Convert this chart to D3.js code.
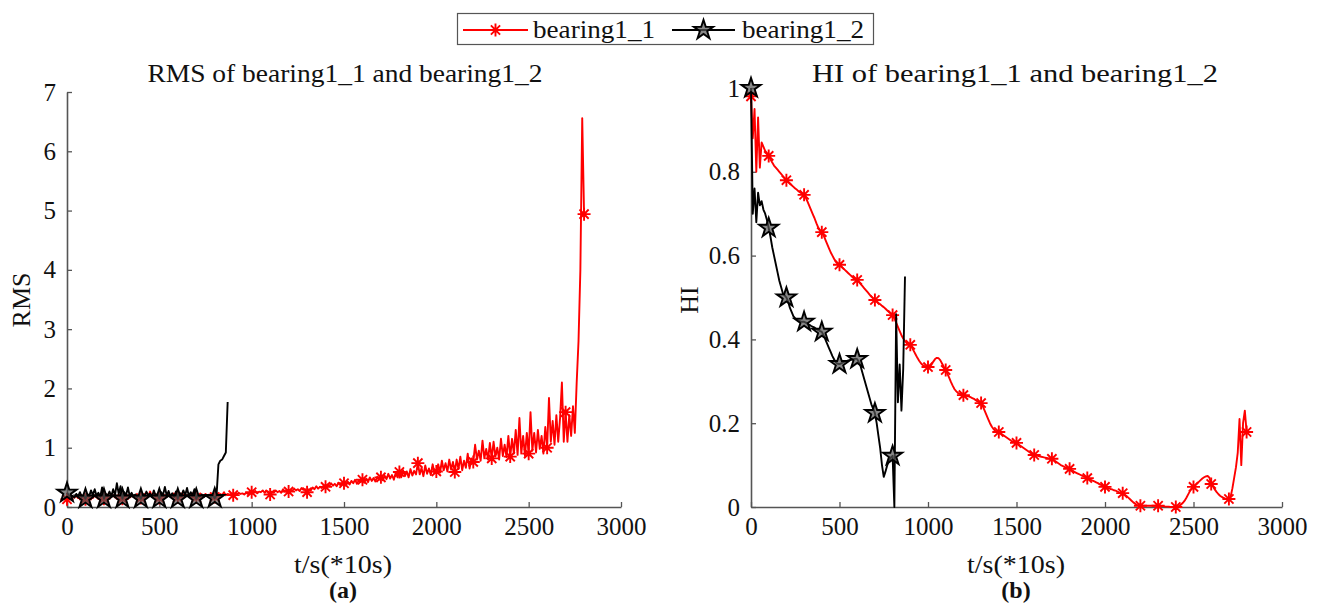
<!DOCTYPE html>
<html>
<head>
<meta charset="utf-8">
<script src="https://cdn.jsdelivr.net/npm/d3@7"></script>
<style>
  body { margin: 0; background: #fff; }
  svg { display: block; }
  text { font-family: "Liberation Serif", "Times New Roman", serif; fill: #111; }
</style>
</head>
<body>
<svg id="chart" width="1323" height="604"></svg>
<script>
// Ticks
var timeTicks = [0, 500, 1000, 1500, 2000, 2500, 3000];
var rmsTicks = [0, 1, 2, 3, 4, 5, 6, 7];
var hiTicks = [0, 0.2, 0.4, 0.6, 0.8, 1];

// samples are every 10 time units (t/s *10s), markers every 100
var sampleStep = 10;
var markerEvery = 100;

// RMS of bearing1_1 (0 .. 2800)
var rms11 = [
  0.13,0.17,0.15,0.18,0.16,0.19,0.15,0.17,0.16,0.18,
  0.13,0.17,0.16,0.18,0.15,0.20,0.16,0.18,0.17,0.19,
  0.14,0.18,0.16,0.19,0.17,0.20,0.16,0.19,0.17,0.18,
  0.14,0.19,0.17,0.20,0.16,0.19,0.18,0.20,0.17,0.19,
  0.15,0.20,0.17,0.19,0.18,0.26,0.17,0.20,0.18,0.19,
  0.15,0.19,0.18,0.20,0.17,0.21,0.18,0.20,0.19,0.20,
  0.16,0.20,0.18,0.21,0.19,0.20,0.18,0.21,0.19,0.20,
  0.16,0.20,0.19,0.21,0.18,0.22,0.19,0.21,0.20,0.22,
  0.17,0.21,0.19,0.22,0.20,0.25,0.20,0.22,0.21,0.22,
  0.20,0.23,0.21,0.24,0.22,0.23,0.21,0.24,0.22,0.25,
  0.25,0.24,0.27,0.23,0.26,0.25,0.28,0.24,0.27,0.26,
  0.21,0.26,0.24,0.28,0.25,0.27,0.24,0.30,0.26,0.28,
  0.26,0.29,0.27,0.31,0.28,0.30,0.27,0.32,0.29,0.30,
  0.25,0.30,0.28,0.33,0.30,0.35,0.31,0.34,0.32,0.36,
  0.34,0.38,0.35,0.40,0.36,0.39,0.35,0.41,0.37,0.40,
  0.40,0.36,0.43,0.38,0.44,0.40,0.46,0.39,0.45,0.42,
  0.46,0.41,0.48,0.42,0.50,0.44,0.49,0.43,0.51,0.46,
  0.50,0.45,0.53,0.47,0.56,0.48,0.54,0.46,0.58,0.50,
  0.59,0.50,0.62,0.52,0.60,0.50,0.64,0.53,0.61,0.55,
  0.74,0.55,0.66,0.52,0.70,0.56,0.65,0.54,0.72,0.57,
  0.60,0.72,0.58,0.78,0.62,0.74,0.60,0.80,0.63,0.76,
  0.59,0.80,0.64,0.85,0.62,0.78,0.66,0.90,0.65,0.82,
  0.76,1.05,0.80,0.95,0.78,1.12,0.82,0.98,0.80,1.08,
  0.82,1.10,0.85,1.00,0.80,1.15,0.86,1.05,0.84,1.20,
  0.85,1.15,0.90,1.30,0.88,1.50,0.90,1.20,0.86,1.25,
  0.90,1.60,0.95,1.25,0.92,1.30,0.98,1.20,0.90,1.35,
  1.00,1.84,1.10,1.45,1.05,1.55,1.10,1.50,2.10,1.10,
  1.60,1.10,1.55,1.20,1.70,1.25,2.10,2.80,4.00,6.56,
  4.94
];

// RMS of bearing1_2 (0 .. 870)
var rms12 = [
  0.24,0.20,0.17,0.19,0.16,0.22,0.18,0.25,0.17,0.20,
  0.14,0.22,0.18,0.28,0.20,0.30,0.19,0.24,0.17,0.33,
  0.14,0.22,0.19,0.26,0.18,0.30,0.20,0.40,0.22,0.35,
  0.14,0.25,0.20,0.33,0.18,0.24,0.17,0.21,0.16,0.20,
  0.14,0.22,0.18,0.26,0.20,0.23,0.17,0.28,0.19,0.22,
  0.14,0.25,0.20,0.34,0.19,0.27,0.18,0.23,0.17,0.26,
  0.14,0.24,0.19,0.28,0.20,0.32,0.18,0.25,0.20,0.30,
  0.14,0.20,0.18,0.21,0.17,0.19,0.18,0.20,0.17,0.19,
  0.15,0.20,0.72,0.78,0.80,0.86,0.92,1.77
];

// HI of bearing1_1 (0 .. 2800)
var hi11 = [
  0.98,0.88,0.95,0.80,0.93,0.81,0.87,0.86,0.85,0.845,
  0.838,0.83,0.822,0.815,0.81,0.805,0.80,0.795,0.79,0.785,
  0.78,0.776,0.772,0.768,0.764,0.76,0.757,0.753,0.75,0.747,
  0.745,0.738,0.728,0.718,0.708,0.698,0.688,0.677,0.667,0.66,
  0.656,0.648,0.638,0.628,0.618,0.608,0.60,0.592,0.585,0.58,
  0.578,0.574,0.57,0.566,0.562,0.558,0.554,0.55,0.546,0.544,
  0.542,0.537,0.532,0.527,0.522,0.517,0.512,0.507,0.502,0.498,
  0.494,0.491,0.487,0.484,0.48,0.477,0.473,0.469,0.465,0.462,
  0.458,0.45,0.44,0.43,0.42,0.41,0.402,0.396,0.391,0.389,
  0.387,0.38,0.372,0.364,0.356,0.349,0.343,0.339,0.336,0.335,
  0.334,0.335,0.34,0.347,0.353,0.356,0.355,0.35,0.342,0.334,
  0.327,0.318,0.308,0.298,0.289,0.281,0.276,0.272,0.27,0.268,
  0.267,0.266,0.265,0.264,0.262,0.26,0.258,0.255,0.252,0.25,
  0.248,0.24,0.23,0.22,0.21,0.20,0.192,0.186,0.182,0.18,
  0.179,0.176,0.173,0.17,0.167,0.164,0.161,0.158,0.156,0.154,
  0.153,0.15,0.147,0.144,0.141,0.138,0.135,0.132,0.129,0.126,
  0.124,0.123,0.122,0.121,0.12,0.119,0.118,0.117,0.116,0.115,
  0.115,0.112,0.109,0.106,0.103,0.10,0.098,0.096,0.094,0.092,
  0.091,0.088,0.086,0.083,0.081,0.079,0.077,0.075,0.073,0.071,
  0.069,0.067,0.065,0.063,0.061,0.059,0.057,0.054,0.052,0.05,
  0.048,0.046,0.045,0.043,0.042,0.04,0.039,0.037,0.035,0.034,
  0.033,0.03,0.027,0.023,0.019,0.015,0.011,0.008,0.005,0.004,
  0.003,0.003,0.003,0.003,0.003,0.003,0.003,0.003,0.003,0.003,
  0.003,0.003,0.002,0.002,0.001,0.001,0.001,0,0,0,
  0,0.001,0.003,0.006,0.01,0.015,0.022,0.03,0.038,0.044,
  0.048,0.052,0.056,0.06,0.064,0.068,0.071,0.073,0.074,0.07,
  0.055,0.049,0.042,0.036,0.031,0.027,0.024,0.022,0.02,0.019,
  0.019,0.025,0.045,0.07,0.095,0.13,0.21,0.10,0.20,0.23,
  0.179
];

// HI of bearing1_2 (0 .. 870)
var hi12 = [
  1.0,0.70,0.76,0.68,0.75,0.72,0.73,0.71,0.70,0.685,
  0.666,0.645,0.62,0.60,0.58,0.56,0.54,0.525,0.51,0.505,
  0.50,0.49,0.475,0.465,0.455,0.45,0.447,0.445,0.443,0.442,
  0.442,0.44,0.437,0.435,0.432,0.43,0.428,0.425,0.422,0.42,
  0.418,0.41,0.40,0.39,0.38,0.37,0.36,0.352,0.345,0.342,
  0.341,0.343,0.345,0.347,0.348,0.35,0.351,0.352,0.353,0.354,
  0.353,0.345,0.335,0.32,0.305,0.29,0.275,0.26,0.245,0.235,
  0.224,0.20,0.17,0.14,0.10,0.072,0.085,0.10,0.11,0.118,
  0.122,0.0,0.46,0.25,0.34,0.23,0.33,0.55
];

var seriesNames = ["bearing1_1", "bearing1_2"];
var seriesColors = ["#ff0000", "#000000"];

var svg = d3.select("#chart");
var axisColor = "#555";
var plotBottom = 507;

// MATLAB-like '*' marker and pentagram
var asteriskPath = "M-6.5,0H6.5M0,-6.5V6.5M-4.6,-4.6L4.6,4.6M-4.6,4.6L4.6,-4.6";
var starPath = d3.symbol(d3.symbolStar, 115)();

function addMarker(sel, kind, color) {
  if (kind === "asterisk") {
    return sel.append("path").attr("d", asteriskPath)
      .attr("stroke", color).attr("stroke-width", 1.9).attr("fill", "none");
  }
  return sel.append("path").attr("d", starPath)
    .attr("stroke", color).attr("stroke-width", 1.9)
    .attr("fill", "#555").attr("fill-opacity", 0.7);
}

/*
  One panel: two series drawn on a shared time axis
*/
function drawPanel(p) {
  var x = d3.scaleLinear().domain([0, 3000]).range([p.left, p.right]);
  var y = d3.scaleLinear().domain(p.yDomain).range([plotBottom, p.top]);
  var g = svg.append("g");

  var xAxis = g.append("g")
    .attr("transform", "translate(0," + plotBottom + ")")
    .call(d3.axisBottom(x).tickValues(timeTicks).tickSizeInner(-5)
      .tickSizeOuter(0).tickPadding(10).tickFormat(d3.format("d")));
  var yAxis = g.append("g")
    .attr("transform", "translate(" + p.left + ",0)")
    .call(d3.axisLeft(y).tickValues(p.yTicks).tickSizeInner(-5)
      .tickSizeOuter(0).tickPadding(11).tickFormat(function(d) { return String(+d.toFixed(1)); }));

  [xAxis, yAxis].forEach(function(a) {
    a.select(".domain").attr("stroke", axisColor).attr("stroke-width", 1.6);
    a.selectAll(".tick line").attr("stroke", axisColor).attr("stroke-width", 1.3);
    a.selectAll(".tick text").attr("font-size", 25)
      .attr("font-family", "Liberation Serif, serif").attr("fill", "#111");
  });

  // series
  p.series.forEach(function(s) {
    var line = d3.line()
      .x(function(d, i) { return x(i * sampleStep); })
      .y(function(d) { return y(d); });
    g.append("path").datum(s.values)
      .attr("d", line)
      .attr("fill", "none")
      .attr("stroke", s.color)
      .attr("stroke-width", 1.9)
      .attr("stroke-linejoin", "round");

    var marks = [];
    s.values.forEach(function(v, i) {
      if ((i * sampleStep) % markerEvery === 0) marks.push({ t: i * sampleStep, v: v });
    });
    marks.forEach(function(m) {
      addMarker(g, s.marker, s.color)
        .attr("transform", "translate(" + x(m.t) + "," + y(m.v) + ")");
    });
  });

  // texts
  g.append("text").attr("x", p.titleX).attr("y", 82)
    .attr("text-anchor", "middle").attr("font-size", 25)
    .attr("textLength", p.titleLen).attr("lengthAdjust", "spacingAndGlyphs")
    .text(p.title);
  g.append("text").attr("transform", "translate(" + p.yLabelX + ",300) rotate(-90)")
    .attr("text-anchor", "middle").attr("font-size", 26)
    .text(p.yLabel);
  g.append("text").attr("x", p.labelX).attr("y", 573)
    .attr("text-anchor", "middle").attr("font-size", 25)
    .attr("textLength", 98).attr("lengthAdjust", "spacingAndGlyphs")
    .text("t/s(*10s)");
  g.append("text").attr("x", p.labelX).attr("y", 598)
    .attr("text-anchor", "middle").attr("font-size", 24).attr("font-weight", "bold")
    .text(p.tag);
}

drawPanel({
  left: 67, right: 621, top: 92, yDomain: [0, 7], yTicks: rmsTicks,
  title: "RMS of bearing1_1 and bearing1_2", titleX: 345, titleLen: 395,
  yLabel: "RMS", yLabelX: 30, labelX: 343, tag: "(a)",
  series: [
    { values: rms11, color: seriesColors[0], marker: "asterisk" },
    { values: rms12, color: seriesColors[1], marker: "star" }
  ]
});

drawPanel({
  left: 751, right: 1282, top: 88, yDomain: [0, 1], yTicks: hiTicks,
  title: "HI of bearing1_1 and bearing1_2", titleX: 1015, titleLen: 406,
  yLabel: "HI", yLabelX: 698, labelX: 1016, tag: "(b)",
  series: [
    { values: hi11, color: seriesColors[0], marker: "asterisk" },
    { values: hi12, color: seriesColors[1], marker: "star" }
  ]
});

// Legend
var legend = svg.append("g");
legend.append("rect").attr("x", 457.5).attr("y", 13.5).attr("width", 416).attr("height", 31)
  .attr("fill", "#fff").attr("stroke", "#555").attr("stroke-width", 1.2);
var legendItems = [
  { x0: 463, x1: 528, tx: 533, kind: "asterisk" },
  { x0: 672, x1: 735, tx: 742, kind: "star" }
];
legendItems.forEach(function(it, i) {
  legend.append("line").attr("x1", it.x0).attr("x2", it.x1).attr("y1", 30).attr("y2", 30)
    .attr("stroke", seriesColors[i]).attr("stroke-width", 1.8);
  addMarker(legend, it.kind, seriesColors[i])
    .attr("transform", "translate(" + (it.x0 + it.x1) / 2 + ",30)");
  legend.append("text").attr("x", it.tx).attr("y", 38).attr("font-size", 25)
    .attr("textLength", 122).attr("lengthAdjust", "spacingAndGlyphs")
    .text(seriesNames[i]);
});
</script>
</body>
</html>
